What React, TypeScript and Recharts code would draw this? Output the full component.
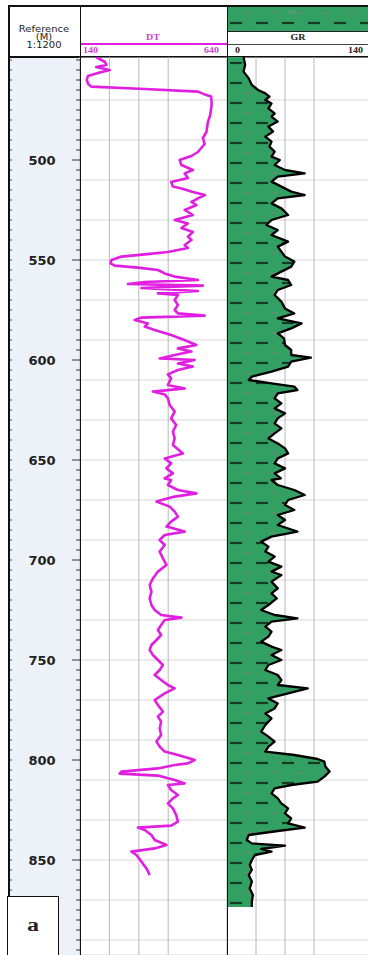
import React from "react";
import { ComposedChart, Line, Area, XAxis, YAxis, CartesianGrid } from "recharts";

// DT log, depth in metres and reading
const dtDepth = [
  448.5, 451, 452.5, 453.5, 455, 456.5, 458, 460, 462, 463.3, 464.5, 465.8, 467.2, 468.3, 472, 477.5,
  481, 486, 489, 492, 496, 498, 500, 502.5, 505, 506.7, 509, 511, 513.3, 514.2, 516, 517.5, 519.2,
  521, 522.5, 525, 527.5, 530, 531.7, 534, 536, 538.3, 540, 542.5, 544, 546, 547.2, 548.3, 550,
  551.7, 552.8, 553.8, 555, 556.7, 558.3, 560, 561, 562, 562.8, 564, 565.5, 566.7, 567.5, 570,
  572.5, 575, 576.7, 577.8, 578.8, 580, 581.7, 583.3, 585, 587.5, 590, 592.5, 594.2, 595.8, 597.5,
  599.2, 600, 601.7, 603.3, 605, 607.2, 609.2, 612.5, 614.2, 615.8, 617.2, 619.2, 622.5, 625.8,
  629.2, 632.5, 635.8, 639.2, 642.5, 646.7, 649.2, 651.7, 654.2, 656.7, 659.2, 660, 662.5, 665,
  666.7, 668.3, 670.8, 673.3, 675.8, 678.3, 680.8, 683.3, 685.8, 687.5, 690, 692.5, 695.8, 699.2,
  702.5, 705.8, 709.2, 712.5, 715.8, 719.2, 722.5, 725, 727.5, 728.8, 730, 732.5, 735, 737.5, 740,
  742.5, 745, 747.5, 750, 752.5, 755, 757.5, 760, 762.5, 764.2, 766.7, 770, 772.5, 775.8, 778.3,
  780.8, 784.2, 787.5, 790.8, 793.3, 795.8, 797.5, 799.5, 800, 801.7, 802.5, 804.2, 805.8, 806.8,
  807.8, 810, 811.7, 812.5, 815, 817.5, 819.2, 821.7, 824.2, 827.5, 830.8, 832.8, 833.8, 835,
  837.5, 840, 842.5, 844.2, 845.8, 847.5, 850.8, 854.2, 857.5,
];
const dtValue = [
  195, 225, 230, 195, 241, 201, 167, 163, 168, 178, 360, 541, 564, 586, 588, 583,
  575, 570, 558, 564, 541, 519, 479, 485, 524, 496, 507, 450, 456, 485, 524, 565, 541,
  519, 536, 496, 524, 462, 507, 485, 524, 507, 519, 496, 507, 439, 360, 281, 247,
  244, 258, 337, 405, 428, 462, 541, 360, 303, 558, 349, 541, 405, 473, 462,
  473, 462, 473, 564, 349, 326, 371, 360, 394, 450, 495, 536, 473, 519, 462,
  411, 530, 473, 524, 473, 439, 450, 439, 496, 388, 428, 439, 445, 462,
  450, 467, 456, 462, 456, 490, 428, 450, 434, 456, 428, 450, 439, 473,
  536, 462, 400, 445, 462, 473, 450, 434, 496, 428, 411, 428, 411, 422,
  434, 405, 388, 377, 383, 377, 383, 394, 416, 485, 428, 416, 405, 416, 400,
  383, 377, 388, 405, 422, 411, 394, 416, 439, 462, 428, 394, 405, 422, 405,
  416, 411, 416, 400, 411, 428, 473, 519, 530, 507, 462, 405, 281, 275,
  405, 462, 496, 439, 450, 473, 456, 439, 456, 467, 473, 450, 337, 360,
  383, 394, 434, 394, 315, 332, 349, 366, 377,
];

// GR log, depth in metres and reading
const grDepth = [
  448.5, 452.5, 455.8, 459.2, 462.5, 465, 466.7, 468.3, 470, 471.7, 474.2, 476.7, 478.3, 480.8,
  483.3, 485.8, 488.3, 490.8, 493.3, 495.8, 498.3, 500, 502.5, 505, 506.7, 508.3, 510.8, 513.3,
  515.8, 517.5, 519.2, 521.7, 524.2, 527.5, 530, 532.5, 535, 537.5, 540.8, 543.3, 545.8, 548.3,
  550.8, 553.3, 555.8, 558.3, 560, 562.5, 565, 567.5, 570.8, 574.2, 576.7, 579.2, 581.7, 584.2,
  586.7, 589.2, 592.5, 595, 597.5, 598.8, 600.8, 603.3, 605.8, 608.3, 610, 611.7, 613.3, 615,
  616.7, 619.2, 621.7, 624.2, 626.7, 629.2, 631.7, 634.2, 636.7, 639.2, 641.7, 644.2, 646.7,
  649.2, 651.7, 654.2, 656.7, 659.2, 660, 662.5, 665, 667.5, 670, 672.5, 675, 677.5, 680, 682.5,
  685.8, 688.3, 690.8, 693.3, 695.8, 698.3, 700.8, 703.3, 705.8, 707.5, 710.8, 714.2, 716.7,
  719.2, 722.5, 725, 727.5, 729.2, 730.8, 733.3, 735.8, 738.3, 740.8, 743.3, 745, 747.5, 750,
  752.5, 755, 757.5, 760, 762.5, 764.2, 766.7, 769.2, 771.7, 774.2, 776.7, 779.2, 782.5, 785.8,
  788.3, 790.8, 793.3, 795.8, 797.5, 799.5, 800.8, 803.3, 805.8, 808.3, 810.8, 812.5, 814.2,
  816.7, 819.2, 821.7, 824.2, 826.7, 829.2, 831.7, 833.8, 835.5, 837.5, 840, 841.7, 842.8, 844.5,
  845.8, 847.5, 850, 852.5, 855, 857.5, 860.8, 864.2, 867.5, 870.8, 873.5,
];
const grValue = [
  16, 17.5, 16, 21, 24, 30, 37, 41, 37, 43, 40, 46, 43, 49,
  40, 44.5, 37, 43, 41, 46, 43, 51, 46, 56, 75, 49, 43, 52.5,
  62, 75, 49, 43, 52.5, 59, 43, 38, 49, 43, 59, 49, 52.5, 56,
  65, 62, 52.5, 43, 59, 62, 49, 46, 52.5, 56, 65, 49, 72, 62,
  49, 55, 56, 62, 62, 81, 62, 59, 43, 24, 21, 43, 65, 68,
  49, 46, 52.5, 46, 56, 49, 46, 52.5, 46, 40, 49, 56, 59,
  49, 46, 56, 46, 52, 43, 49, 65, 75, 59, 56, 65, 49, 56, 49,
  68, 43, 33, 40, 37, 46, 40, 52.5, 43, 52.5, 43, 49, 43,
  48, 40, 33, 46, 68, 43, 37, 43, 40, 33, 43, 52.5, 43, 52.5,
  40, 37, 49, 52.5, 49, 78, 59, 40, 49, 46, 37, 43, 37, 33,
  40, 46, 40, 37, 65, 87.5, 94, 95, 99, 94, 87.5, 62, 46,
  43, 49, 52.5, 59, 56, 62, 59, 75, 49, 21, 19, 24, 56, 33,
  43, 27, 24, 22, 24, 21, 24, 22, 25, 24, 24,
];

// axis ticks
const depthDomain = [448.5, 897.5];
const depthLabels = [500, 550, 600, 650, 700, 750, 800, 850];
const depthTicks = [
  450, 455, 460, 465, 470, 475, 480, 485, 490, 495, 500, 505, 510, 515, 520, 525, 530, 535, 540,
  545, 550, 555, 560, 565, 570, 575, 580, 585, 590, 595, 600, 605, 610, 615, 620, 625, 630, 635,
  640, 645, 650, 655, 660, 665, 670, 675, 680, 685, 690, 695, 700, 705, 710, 715, 720, 725, 730,
  735, 740, 745, 750, 755, 760, 765, 770, 775, 780, 785, 790, 795, 800, 805, 810, 815, 820, 825,
  830, 835, 840, 845, 850, 855, 860, 865, 870, 875, 880, 885, 890, 895,
];
const gridDepths = [
  450, 460, 470, 480, 490, 500, 510, 520, 530, 540, 550, 560, 570, 580, 590, 600, 610, 620, 630,
  640, 650, 660, 670, 680, 690, 700, 710, 720, 730, 740, 750, 760, 770, 780, 790, 800, 810, 820,
  830, 840, 850, 860, 870, 880, 890,
];
const dtTicks = [140, 240, 340, 440, 540, 640];
const grTicks = [0, 28, 56, 84, 112, 140];

const dtData = dtDepth.map((d, i) => ({ depth: d, dt: dtValue[i] }));
const grData = grDepth.map((d, i) => ({ depth: d, gr: grValue[i] }));

const MAGENTA = "#e01fe0";
const GREEN = "#31a062";
const SERIF = "'Liberation Serif', 'Times New Roman', serif";
const SANS = "'DejaVu Sans', Verdana, sans-serif";

const DepthTick = (props: any) => {
  const { x, y, payload } = props;
  const d = payload.value;
  const major = depthLabels.includes(d);
  return (
    <g>
      <line x1={x - (major ? 8 : 4)} y1={y} x2={x} y2={y} stroke="#333" strokeWidth={1} />
      <line x1={x - 72} y1={y} x2={x - 68} y2={y} stroke="#555" strokeWidth={1} />
      {major && (
        <text
          x={x - 38}
          y={y}
          textAnchor="middle"
          dominantBaseline="central"
          fontFamily={SANS}
          fontWeight="bold"
          fontSize={13}
          fill="#222"
        >
          {d}
        </text>
      )}
    </g>
  );
};

const Txt = ({ x, y, children, color = "#222", font = SERIF, size = 10, anchor = "middle", bold = true }: any) => {
  const tx = anchor === "middle" ? "-50%" : anchor === "end" ? "-100%" : "0";
  return (
    <div
      style={{
        position: "absolute",
        left: x,
        top: y,
        transform: `translate(${tx}, -50%) scaleY(0.8)`,
        fontFamily: font,
        fontSize: size,
        fontWeight: bold ? "bold" : "normal",
        color,
        whiteSpace: "nowrap",
        lineHeight: 1,
      }}
    >
      {children}
    </div>
  );
};

const ShalePattern = ({ id, y0 }: { id: string; y0: number }) => (
  <pattern id={id} patternUnits="userSpaceOnUse" x={3} y={y0} width={26} height={20}>
    <rect x={0} y={0} width={26} height={20} fill={GREEN} />
    <line x1={0} y1={0} x2={12} y2={0} stroke="#143a22" strokeWidth={2.2} />
    <line x1={0} y1={20} x2={12} y2={20} stroke="#143a22" strokeWidth={2.2} />
    <line x1={13} y1={10} x2={22} y2={10} stroke="#6b8a74" strokeWidth={1.2} />
  </pattern>
);

const vline = (x: number, color = "#111", w = 1.5) => (
  <div style={{ position: "absolute", left: x, top: 5, width: w, height: 950, background: color }} />
);

export default function App() {
  return (
    <div
      style={{
        position: "absolute",
        left: 0,
        top: 0,
        width: 368,
        height: 955,
        overflow: "hidden",
        background: "#fff",
      }}
    >
      {/* depth track background */}
      <div style={{ position: "absolute", left: 8, top: 57, width: 72, height: 898, background: "#edf2f9" }} />

      {/* header */}
      <svg style={{ position: "absolute", left: 227, top: 5 }} width={141} height={27}>
        <defs>
          <ShalePattern id="shaleHead" y0={18} />
        </defs>
        <rect x={0} y={0} width={141} height={27} fill="url(#shaleHead)" />
        <text x={60} y={9} fontSize={6} fill="#7a9a80" fontFamily={SANS}>GR</text>
      </svg>
      <div style={{ position: "absolute", left: 227, top: 31, width: 141, height: 1, background: "#222" }} />
      <Txt x={44} y={30} font={SANS} size={10} bold={false}>Reference</Txt>
      <Txt x={44} y={38} font={SANS} size={10} bold={false}>(M)</Txt>
      <Txt x={44} y={46} font={SANS} size={10} bold={false}>1:1200</Txt>
      <Txt x={153} y={38} color="#cf3fcf" size={10}>DT</Txt>
      <div style={{ position: "absolute", left: 80, top: 43, width: 147, height: 2, background: MAGENTA }} />
      <Txt x={83} y={50.5} color="#cf3fcf" size={10} anchor="start">140</Txt>
      <Txt x={219} y={50.5} color="#cf3fcf" size={10} anchor="end">640</Txt>
      <Txt x={298} y={38} size={10}>GR</Txt>
      <div style={{ position: "absolute", left: 227, top: 44, width: 141, height: 1, background: "#444" }} />
      <Txt x={235} y={50.5} size={10} anchor="start">0</Txt>
      <Txt x={363} y={50.5} size={10} anchor="end">140</Txt>
      <div style={{ position: "absolute", left: 8, top: 5, width: 360, height: 1.5, background: "#111" }} />
      <div style={{ position: "absolute", left: 8, top: 56, width: 360, height: 1.5, background: "#111" }} />

      {/* DT track with depth axis */}
      <div style={{ position: "absolute", left: 8, top: 57 }}>
        <ComposedChart
          layout="vertical"
          width={219}
          height={898}
          data={dtData}
          margin={{ top: 0, right: 0, bottom: 0, left: 0 }}
        >
          <XAxis type="number" dataKey="dt" domain={[140, 640]} ticks={dtTicks} hide allowDataOverflow />
          <YAxis
            yAxisId="depth"
            type="number"
            dataKey="depth"
            domain={depthDomain}
            ticks={depthTicks}
            interval={0}
            width={72}
            tickLine={false}
            axisLine={false}
            tickSize={0}
            tickMargin={0}
            tick={<DepthTick />}
            allowDataOverflow
          />
          <YAxis yAxisId="grid" type="number" dataKey="depth" domain={depthDomain} ticks={gridDepths} hide allowDataOverflow />
          <CartesianGrid yAxisId="grid" vertical={false} stroke="#d6d6d6" strokeWidth={1} />
          <CartesianGrid yAxisId="grid" horizontal={false} stroke="#b8b8b8" strokeWidth={1} />
          <Line
            yAxisId="depth"
            type="linear"
            dataKey="dt"
            stroke={MAGENTA}
            strokeWidth={2.6}
            strokeLinejoin="round"
            dot={false}
            isAnimationActive={false}
          />
        </ComposedChart>
      </div>

      {/* GR track */}
      <div style={{ position: "absolute", left: 227, top: 57 }}>
        <ComposedChart
          layout="vertical"
          width={145}
          height={898}
          data={grData}
          margin={{ top: 0, right: 0, bottom: 0, left: 0 }}
        >
          <defs>
            <ShalePattern id="shale" y0={6} />
          </defs>
          <XAxis type="number" dataKey="gr" domain={[0, 140]} ticks={grTicks} hide allowDataOverflow />
          <YAxis type="number" dataKey="depth" domain={depthDomain} ticks={gridDepths} hide allowDataOverflow />
          <CartesianGrid vertical={false} stroke="#d6d6d6" strokeWidth={1} />
          <CartesianGrid horizontal={false} stroke="#b8b8b8" strokeWidth={1} />
          <Area
            type="linear"
            dataKey="gr"
            stroke="#000"
            strokeWidth={2.3}
            strokeLinejoin="round"
            fill="url(#shale)"
            fillOpacity={1}
            baseValue={0}
            isAnimationActive={false}
          />
        </ComposedChart>
      </div>

      {/* track borders */}
      {vline(8)}
      {vline(79.5)}
      {vline(226.5)}

      {/* panel label */}
      <div
        style={{
          position: "absolute",
          left: 7,
          top: 896,
          width: 52,
          height: 64,
          background: "#fff",
          border: "1px solid #111",
          boxSizing: "border-box",
        }}
      />
      <Txt x={33} y={925} size={24} bold>
        a
      </Txt>
    </div>
  );
}
